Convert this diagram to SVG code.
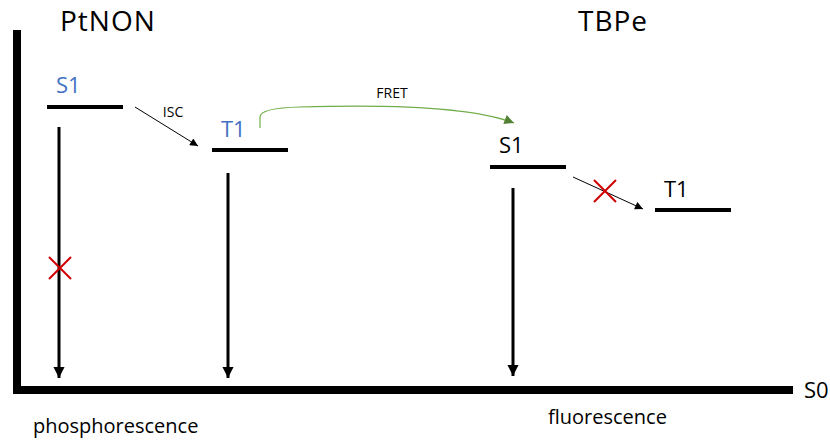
<svg xmlns="http://www.w3.org/2000/svg" width="830" height="440" viewBox="0 0 830 440">
<style>
text{font-family:"Open Sans","Noto Sans","Liberation Sans",sans-serif;fill:#000}
.title{font-size:28px;letter-spacing:1px}
.lbl{font-size:22px}
.blue{fill:#4472C4}
.small{font-size:14px}
.cap{font-size:20px}
.lvl{stroke:#000;stroke-width:4;fill:none}
.decay{stroke:#000;stroke-width:3;fill:none;marker-end:url(#big)}
.thin{stroke:#000;stroke-width:1;fill:none;marker-end:url(#small)}
.x{stroke:#d00000;stroke-width:2;fill:none}
</style>
<defs>
<marker id="big" viewBox="0 0 10 10" refX="10" refY="5" markerWidth="4.3" markerHeight="3.7" markerUnits="strokeWidth" orient="auto"><path d="M0,0 L10,5 L0,10 z" fill="#000"/></marker>
<marker id="small" viewBox="0 0 10 10" refX="10" refY="5" markerWidth="10" markerHeight="8" markerUnits="strokeWidth" orient="auto"><path d="M0,0 L10,5 L0,10 z" fill="#000"/></marker>
<marker id="green" viewBox="0 0 10 10" refX="10" refY="5" markerWidth="10" markerHeight="8" markerUnits="strokeWidth" orient="auto"><path d="M0,0 L10,5 L0,10 z" fill="#548235"/></marker>
</defs>
<g id="axes">
<line x1="17" y1="30" x2="17" y2="394" stroke="#000" stroke-width="8"/>
<line x1="13" y1="390" x2="793" y2="390" stroke="#000" stroke-width="8"/>
<text class="lbl" x="804" y="398">S0</text>
</g>
<g id="titles">
<text class="title" x="60" y="31">PtNON</text>
<text class="title" x="578" y="31">TBPe</text>
</g>
<g id="ptnon-s1">
<text class="lbl blue" x="56" y="93">S1</text>
<line class="lvl" x1="47" y1="107" x2="123" y2="107"/>
</g>
<g id="ptnon-t1">
<text class="lbl blue" x="221" y="137">T1</text>
<line class="lvl" x1="212" y1="150" x2="288" y2="150"/>
</g>
<g id="tbpe-s1">
<text class="lbl" x="499" y="153">S1</text>
<line class="lvl" x1="490" y1="167" x2="566" y2="167"/>
</g>
<g id="tbpe-t1">
<text class="lbl" x="664" y="197">T1</text>
<line class="lvl" x1="655" y1="210" x2="731" y2="210"/>
</g>
<g id="connectors">
<line class="decay" x1="59" y1="127" x2="59" y2="378"/>
<line class="decay" x1="228" y1="173" x2="228" y2="378"/>
<line class="decay" x1="513" y1="188" x2="513" y2="376"/>
<line class="thin" x1="135" y1="107" x2="198" y2="146"/>
<line class="thin" x1="573" y1="177" x2="643" y2="209"/>
<path d="M260,128 L260,117 Q260,108 300,107 Q460,102 514,123" stroke="#70AD47" stroke-width="1.2" fill="none" marker-end="url(#green)"/>
<text class="small" x="173" y="117" text-anchor="middle">ISC</text>
<text class="small" x="392" y="98" text-anchor="middle">FRET</text>
<path class="x" d="M49,257 L71,279 M71,257 L49,279"/>
<path class="x" d="M594,180 L616,202 M616,180 L594,202"/>
</g>
<g id="captions">
<text class="cap" x="33" y="433">phosphorescence</text>
<text class="cap" x="548" y="424">fluorescence</text>
</g>
</svg>
